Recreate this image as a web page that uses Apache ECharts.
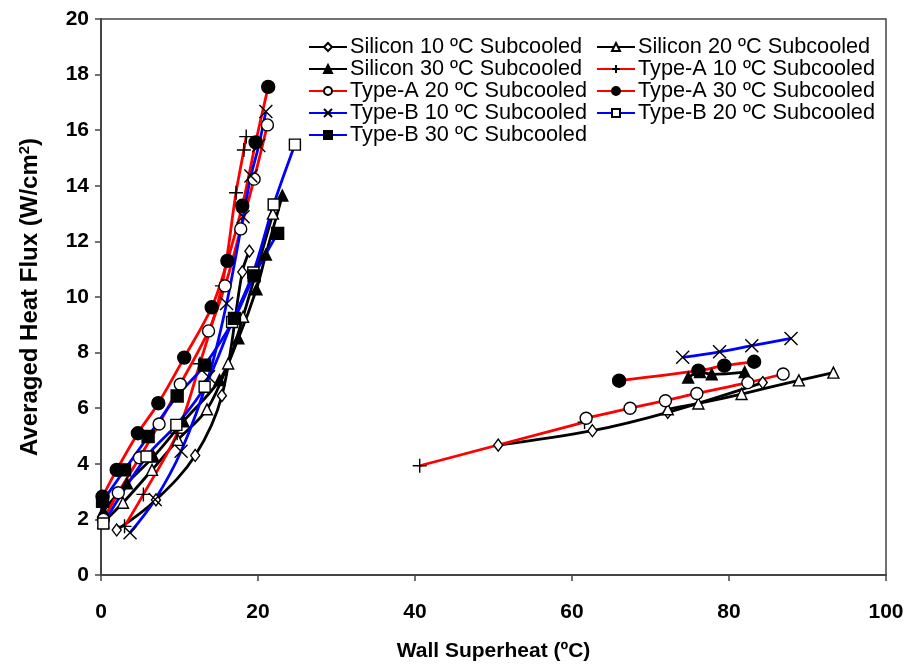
<!DOCTYPE html>
<html><head><meta charset="utf-8">
<script src="https://cdn.jsdelivr.net/npm/echarts@6/dist/echarts.min.js"></script>
<style>html,body{margin:0;padding:0;background:#fff}#c{width:909px;height:668px}</style>
</head><body><div id="c"></div>
<script>
const GAP = ['-', '-'];
const silicon10 = [[2.0,1.62],[7.0,2.7],[12.0,4.3],[15.4,6.45],[18.0,10.9],[18.9,11.65],GAP,[50.6,4.67],[62.6,5.19],[72.2,5.85],[84.3,6.92]];
const silicon20 = [[0.3,1.9],[2.8,2.6],[6.5,3.78],[9.8,4.86],[13.5,5.96],[16.2,7.61],[18.1,9.29],[21.9,13.0],GAP,[72.2,5.96],[76.1,6.17],[81.6,6.51],[88.9,7.0],[93.3,7.28]];
const silicon30 = [[0.3,2.3],[3.3,3.3],[6.7,4.26],[10.5,5.53],[15.1,7.01],[17.5,8.51],[19.8,10.28],[21.0,11.53],[23.1,13.65],GAP,[74.8,7.1],[76.3,7.3],[77.8,7.22],[82.0,7.3]];
const typeA10 = [[3.0,1.75],[5.4,2.9],[9.7,5.1],[12.6,7.6],[15.4,10.4],[17.2,13.75],[18.2,15.29],[18.5,15.77],GAP,[40.6,3.93],[61.6,5.5]];
const typeA20 = [[0.3,2.0],[2.2,2.96],[4.9,4.22],[7.4,5.43],[10.1,6.86],[13.7,8.78],[15.8,10.4],[17.8,12.45],[19.5,14.24],[21.2,16.19],GAP,[61.8,5.64],[67.4,6.0],[71.9,6.27],[75.9,6.53],[82.4,6.92],[86.9,7.23]];
const typeA30 = [[0.2,2.82],[2.0,3.78],[4.7,5.1],[7.3,6.18],[10.6,7.82],[14.1,9.63],[16.1,11.3],[18.0,13.28],[19.7,15.56],[21.3,17.56],GAP,[66.0,6.99],[76.1,7.35],[79.4,7.53],[83.2,7.67]];
const typeB10 = [[3.7,1.52],[6.9,2.72],[10.2,4.45],[13.7,7.13],[16.0,9.77],[18.1,12.89],[19.1,14.35],[20.1,15.45],[21.0,16.67],GAP,[74.1,7.83],[78.8,8.03],[82.9,8.25],[87.9,8.51]];
const typeB20 = [[0.3,1.85],[5.8,4.26],[9.6,5.4],[13.2,6.77],[16.7,9.1],[19.4,10.88],[22.0,13.33],[24.7,15.48]];
const typeB30 = [[0.2,2.65],[3.0,3.78],[6.0,4.98],[9.7,6.44],[13.2,7.55],[17.0,9.23],[19.5,10.76],[22.5,12.29]];
const xTicks = [0,20,40,60,80,100];
const yTicks = [0,2,4,6,8,10,12,14,16,18,20];

const PLUS = 'path://M5,0L5,10M0,5L10,5';
const CROSS = 'path://M0,0L10,10M10,0L0,10';
const RED = '#ff0000', BLUE = '#0000ff', BLACK = '#000000';
function mk(name, data, lineColor, symbol, fill, size) {
  return {
    name, type: 'line', data, smooth: 0.35, connectNulls: false,
    symbol, symbolSize: size || 10,
    lineStyle: { color: lineColor, width: 2.8 },
    itemStyle: { color: fill, borderColor: BLACK, borderWidth: 1.4 },
    emphasis: { disabled: true }, z: 3
  };
}
const series = [
  mk('Silicon 10 ºC Subcooled', silicon10, BLACK, 'diamond', '#fff', [9, 12]),
  mk('Silicon 20 ºC Subcooled', silicon20, BLACK, 'triangle', '#fff', 11),
  mk('Silicon 30 ºC Subcooled', silicon30, BLACK, 'triangle', BLACK, 11),
  mk('Type-A 10 ºC Subcooled', typeA10, RED, PLUS, 'none', 14),
  mk('Type-A 20 ºC Subcooled', typeA20, RED, 'circle', '#fff', 12),
  mk('Type-A 30 ºC Subcooled', typeA30, RED, 'circle', BLACK, 13),
  mk('Type-B 10 ºC Subcooled', typeB10, BLUE, CROSS, 'none', 13),
  mk('Type-B 20 ºC Subcooled', typeB20, BLUE, 'rect', '#fff', 11),
  mk('Type-B 30 ºC Subcooled', typeB30, BLUE, 'rect', BLACK, 12)
];
const legendCommon = {
  orient: 'vertical', itemWidth: 38, itemHeight: 10, itemGap: 0,
  textStyle: { fontSize: 21.7, lineHeight: 22, fontFamily: 'Liberation Sans', color: '#000', padding: [0,0,0,-2] },
  selectedMode: false, top: 31
};
const chart = echarts.init(document.getElementById('c'), null, { renderer: 'canvas' });
chart.setOption({
  animation: false,
  backgroundColor: '#fff',
  grid: { left: 101, right: 23, top: 19, bottom: 93, show: true, borderColor: '#444', borderWidth: 1.5 },
  legend: [
    Object.assign({ left: 303, data: [series[0].name, series[2].name, series[4].name, series[6].name, series[8].name] }, legendCommon),
    Object.assign({ left: 591, data: [series[1].name, series[3].name, series[5].name, series[7].name] }, legendCommon)
  ],
  xAxis: {
    type: 'value', min: xTicks[0], max: xTicks[xTicks.length-1], interval: 20,
    name: 'Wall Superheat (ºC)', nameLocation: 'middle', nameGap: 66,
    nameTextStyle: { fontSize: 21, fontWeight: 'bold', fontFamily: 'Liberation Sans', color: '#000' },
    axisLine: { lineStyle: { color: '#444', width: 2 } },
    axisTick: { show: true, length: 6, lineStyle: { color: '#444', width: 1.5 } },
    axisLabel: { fontSize: 21, fontWeight: 'bold', fontFamily: 'Liberation Sans', color: '#000', margin: 27 },
    splitLine: { show: false }
  },
  yAxis: {
    type: 'value', min: yTicks[0], max: yTicks[yTicks.length-1], interval: 2,
    name: 'Averaged Heat Flux (W/cm{sup|2})', nameLocation: 'middle', nameGap: 57,
    nameTextStyle: { fontSize: 24, fontWeight: 'bold', fontFamily: 'Liberation Sans', color: '#000',
      rich: { sup: { fontSize: 15, fontWeight: 'bold', fontFamily: 'Liberation Sans', color: '#000', padding: [0,0,12,0] } } },
    axisLine: { lineStyle: { color: '#444', width: 2 } },
    axisTick: { show: true, length: 6, lineStyle: { color: '#444', width: 1.5 } },
    axisLabel: { fontSize: 21, fontWeight: 'bold', fontFamily: 'Liberation Sans', color: '#000', margin: 12 },
    splitLine: { show: false }
  },
  series
});
</script></body></html>
